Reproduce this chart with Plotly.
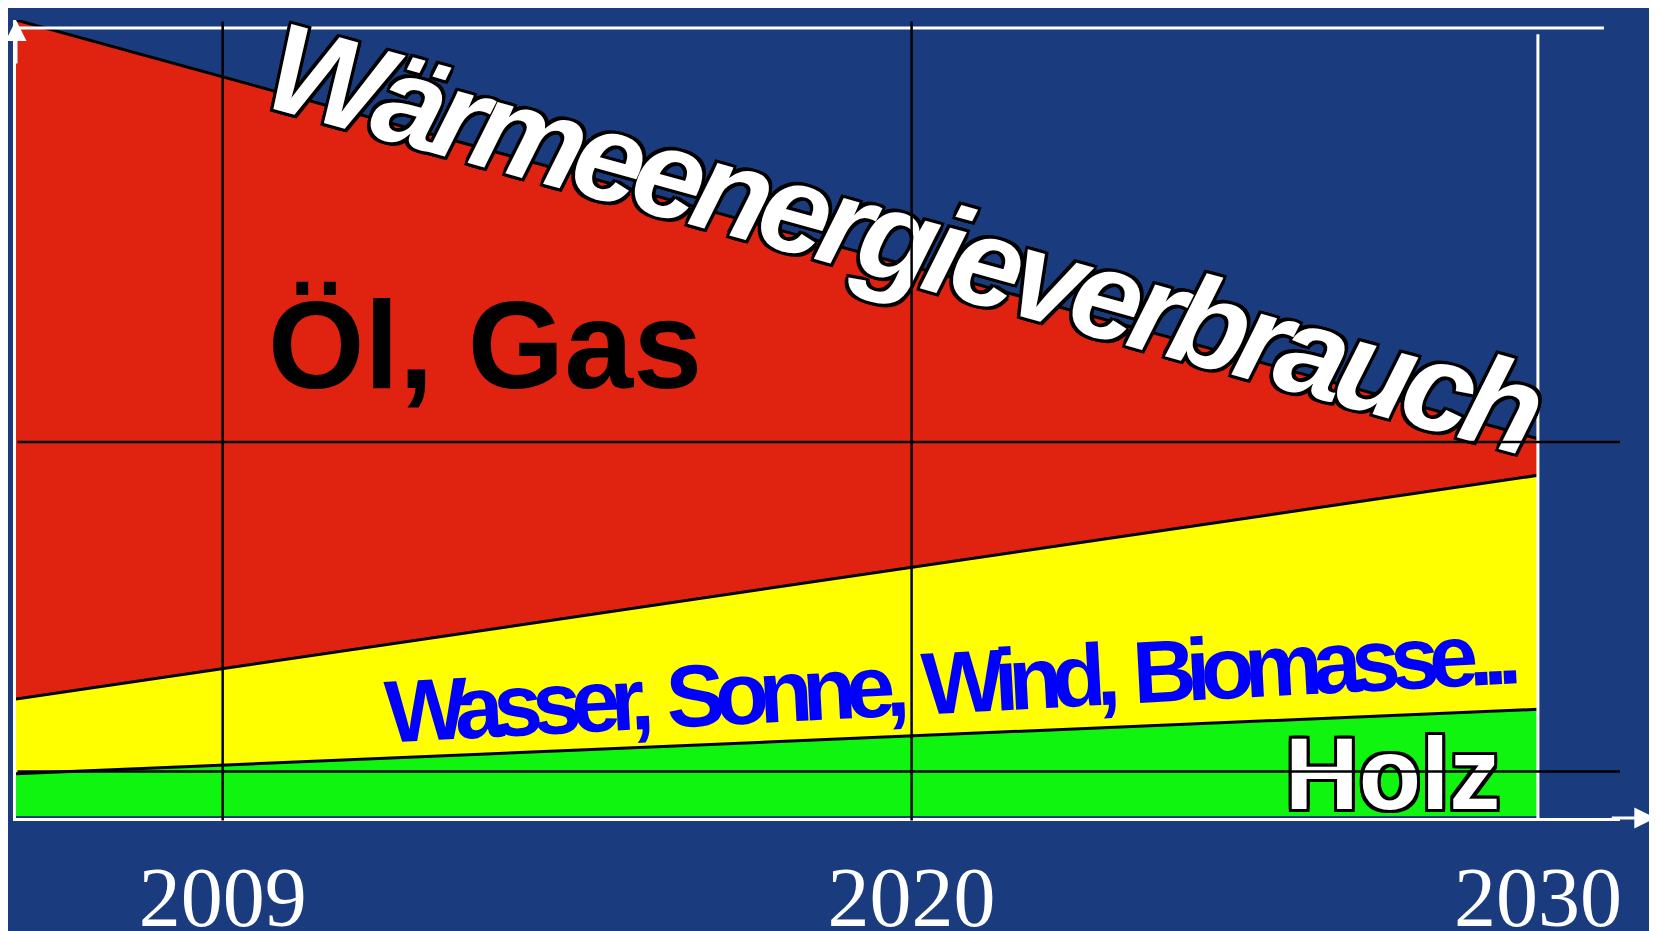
import plotly.graph_objects as go

# ---- data ----
years = [2005.7, 2030]
holz = [5.3, 13.4]
erneuerbar = [9.4, 29.4]
oel_gas = [85.3, 4.6]
series_names = ["Holz", "Wasser, Sonne, Wind, Biomasse...", "Öl, Gas"]
tick_years = [2009, 2020, 2030]
tick_labels = ["2009", "2020", "2030"]
grid_years = [2009, 2020]
grid_levels = [5.6, 47.0]

# ---- styles ----
fill_colors = ["#10f510", "#ffff00", "#df2310"]
bg = "#1a3c7e"
W, H = 1657, 931
L, R, T, B = 8, 45, 12, 121
X_RANGE = [2005.7, 2005.7 + 1604 / 62.63]
Y_RANGE = [-0.25, 100]
outline = ("3px 3px 0 #000, -3px -3px 0 #000, 3px -3px 0 #000, -3px 3px 0 #000, "
           "0 3px 0 #000, 0 -3px 0 #000, 3px 0 0 #000, -3px 0 0 #000")

fig = go.Figure()
for name, vals, col in zip(series_names, [holz, erneuerbar, oel_gas], fill_colors):
    fig.add_trace(go.Scatter(
        x=years, y=vals, name=name, stackgroup="one", mode="lines",
        line=dict(color="black", width=3), fillcolor=col, hoverinfo="skip",
        showlegend=False))

shapes = [
    dict(type="line", xref="x", yref="y domain", x0=tick_years[-1], x1=tick_years[-1],
         y0=0, y1=0.982, line=dict(color="white", width=3), layer="above"),
    dict(type="line", xref="x domain", yref="y domain", x0=0, x1=0.99, y0=0.99, y1=0.99,
         line=dict(color="white", width=3), layer="above"),
]

annotations = [
    dict(text="<span style='letter-spacing:-8px'>Wärmeenergieverbrauch</span>",
         xref="paper", yref="paper", x=0.553, y=0.726, xanchor="center", yanchor="middle",
         showarrow=False, textangle=15.5,
         font=dict(family="Liberation Sans, Arial", size=126, color="white",
                   weight="bold", style="italic", shadow=outline)),
    dict(text="Öl, Gas", xref="paper", yref="paper", x=0.2924, y=0.593,
         xanchor="center", yanchor="middle", showarrow=False,
         font=dict(family="Liberation Sans, Arial", size=124, color="black", weight="bold")),
    dict(text="<span style='letter-spacing:-10px;word-spacing:8px'>Wasser, Sonne, Wind, Biomasse...</span>",
         xref="paper", yref="paper", x=0.582, y=0.170, xanchor="center", yanchor="middle",
         showarrow=False, textangle=-3,
         font=dict(family="Liberation Sans, Arial", size=88, color="#0000ff", weight="bold")),
    dict(text="Holz", xref="paper", yref="paper", x=0.858, y=0.055,
         xanchor="center", yanchor="middle", showarrow=False,
         font=dict(family="Liberation Sans, Arial", size=102, color="white", weight="bold",
                   shadow=outline)),
]

# grid lines drawn as plain line annotations so that they lie on top of the labels
for gx in grid_years:
    annotations.append(dict(text="", xref="x", yref="y", x=gx, y=Y_RANGE[0] - 0.3,
                            axref="x", ayref="y", ax=gx, ay=Y_RANGE[1],
                            showarrow=True, arrowhead=0, arrowwidth=2.5, arrowcolor="black",
                            standoff=0, startstandoff=0))
for gy in grid_levels:
    annotations.append(dict(text="", xref="x", yref="y", x=X_RANGE[1], y=gy,
                            axref="x", ayref="y", ax=X_RANGE[0], ay=gy,
                            showarrow=True, arrowhead=0, arrowwidth=2.5, arrowcolor="black",
                            standoff=0, startstandoff=0))

# axis arrow heads
annotations += [
    dict(text="", xref="paper", yref="paper", x=1.022, y=0, ax=-45, ay=0, showarrow=True,
         arrowhead=2, arrowsize=1.4, arrowwidth=3, arrowcolor="white"),
    dict(text="", xref="paper", yref="paper", x=0, y=1.0, ax=0, ay=45, showarrow=True,
         arrowhead=2, arrowsize=1.4, arrowwidth=3, arrowcolor="white"),
]

fig.update_layout(
    width=W, height=H, margin=dict(l=L, r=R, t=T, b=B),
    paper_bgcolor=bg, plot_bgcolor=bg, showlegend=False,
    shapes=shapes, annotations=annotations,
    xaxis=dict(range=X_RANGE, tickvals=tick_years,
               ticktext=tick_labels, showgrid=False, zeroline=False, ticks="",
               showline=True, linecolor="white", linewidth=3, ticklabelstandoff=4,
               automargin=False,
               tickfont=dict(family="Liberation Serif, Times New Roman", size=84, color="white"),
               fixedrange=True),
    yaxis=dict(range=Y_RANGE, showgrid=False, zeroline=False, showticklabels=False,
               automargin=False,
               ticks="", showline=True, linecolor="white", linewidth=3, fixedrange=True),
)

fig.write_html("out.html")
